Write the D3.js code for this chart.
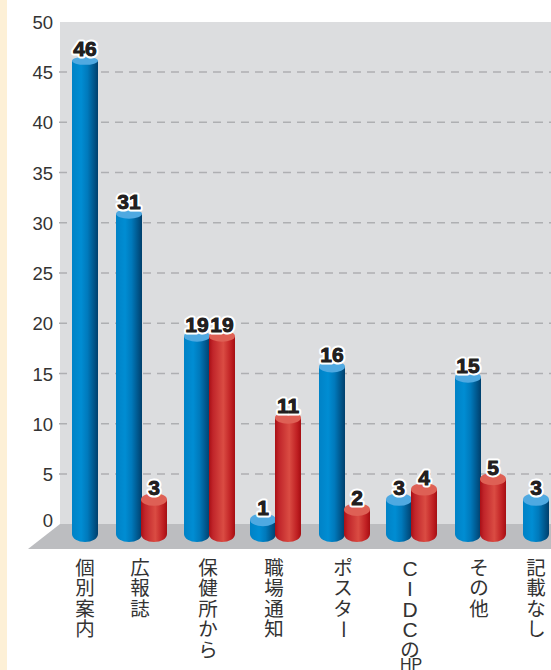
<!DOCTYPE html>
<html><head><meta charset="utf-8">
<script src="https://cdn.jsdelivr.net/npm/d3@7"></script>
<style>html,body{margin:0;padding:0;background:#fff;overflow:hidden}svg{display:block}</style>
</head><body><svg id="c" width="551" height="670"></svg>
<script>
const categories = ["個別案内","広報誌","保健所から","職場通知","ポスター","CIDCのHP","その他","記載なし"];
const blueValues = [46,31,19,1,16,3,15,3];
const redValues  = [null,3,19,11,2,4,5,null];
const yTicks = [0,5,10,15,20,25,30,35,40,45,50];

const svg = d3.select("#c");
const W = 551, H = 670;
const defs = svg.append("defs");
function grad(id, stops){
  const g = defs.append("linearGradient").attr("id",id).attr("x1",0).attr("x2",1).attr("y1",0).attr("y2",0);
  stops.forEach(([o,c])=>g.append("stop").attr("offset",o).attr("stop-color",c));
}
grad("blue",[[0,"#0082c6"],[0.35,"#008dd3"],[0.6,"#0079bb"],[1,"#003f6c"]]);
grad("red",[[0,"#a90f15"],[0.15,"#c0252a"],[0.55,"#da4c43"],[0.85,"#bf1f22"],[1,"#a50e12"]]);

svg.append("rect").attr("x",0).attr("y",0).attr("width",7).attr("height",H).attr("fill","#fdf0d6");

const y = d3.scaleLinear().domain([0,50]).range([524.2,21.8]);
const yBar = d3.scaleLinear().domain([0,50]).range([530,20]);
const yBase = 534, baseRy = 8;
const topRy = d3.scaleLinear().domain([0,50]).range([6.5,3.8]);
const x = d3.scaleOrdinal().domain(categories).range([85,141,209,275,344,411,480,536]);
const barW = 26;

// wall and floor
svg.append("rect").attr("x",60).attr("y",22).attr("width",W-60).attr("height",502).attr("fill","#dcdddf");
svg.append("path").attr("d",d3.line()([[60,524],[28,549],[W,549],[W,524]])+"Z").attr("fill","#bcbdc0");

// grid
svg.append("g").selectAll("line").data(yTicks.filter(t=>t>0&&t<50)).join("line")
  .attr("x1",59).attr("x2",W).attr("y1",d=>y(d)).attr("y2",d=>y(d))
  .attr("stroke","#aeafb2").attr("stroke-width",1.4).attr("stroke-dasharray","8 6");

// y axis labels
const axis = d3.axisLeft(y).tickValues(yTicks).tickSize(0).tickPadding(0);
const gAxis = svg.append("g").attr("transform","translate(53,0)").call(axis);
gAxis.select(".domain").remove();
gAxis.selectAll("text").attr("font-family","'Liberation Sans',Arial,sans-serif").attr("font-size",18.5)
  .attr("fill","#333").attr("dy",d=>d===0?"0.13em":"0.36em");

// bars
function cyl(g, left, v, kind){
  const top = yBar(v), rx = barW/2;
  g.append("path").attr("fill",`url(#${kind})`)
    .attr("d",`M${left},${top}L${left},${yBase}A${rx},${baseRy} 0 0 0 ${left+barW},${yBase}L${left+barW},${top}Z`);
  g.append("ellipse").attr("cx",left+rx).attr("cy",top).attr("rx",rx).attr("ry",topRy(v))
    .attr("fill",kind==="blue"?"#4fa9e1":"#de6055");
}
const rows = categories.map((c,i)=>({c,b:blueValues[i],r:redValues[i]}));
const gBars = svg.append("g");
rows.forEach(d=>{
  const a = x(d.c);
  if(d.r===null){ cyl(gBars,a-barW/2,d.b,"blue"); }
  else { cyl(gBars,a-barW+1,d.b,"blue"); cyl(gBars,a,d.r,"red"); }
});
// value labels
const labels = [];
rows.forEach(d=>{
  const a = x(d.c);
  if(d.r===null) labels.push({x:a,v:d.b});
  else { labels.push({x:a-12,v:d.b}); labels.push({x:a+13,v:d.r}); }
});
svg.append("g").selectAll("text").data(labels).join("text")
  .attr("x",d=>d.x).attr("y",d=>yBar(d.v)-4.5)
  .attr("text-anchor","middle").attr("font-family","'Liberation Sans',Arial,sans-serif")
  .attr("font-weight","bold").attr("font-size",21)
  .attr("fill","#231f20").attr("stroke","#fff").attr("stroke-width",5).attr("stroke-linejoin","round")
  .style("paint-order","stroke").text(d=>d.v);
svg.append("g").selectAll("text").data(labels).join("text")
  .attr("x",d=>d.x).attr("y",d=>yBar(d.v)-4.5)
  .attr("text-anchor","middle").attr("font-family","'Liberation Sans',Arial,sans-serif")
  .attr("font-weight","bold").attr("font-size",21)
  .attr("fill","#231f20").attr("stroke","#231f20").attr("stroke-width",0.8).text(d=>d.v);

// vertical category labels
const pitch = 20.4, firstY = 575;
categories.forEach((c,k)=>{
  const glyphs = c.match(/HP|./gu);
  const cx = x(c) - (redValues[k]===null ? 0 : 1);
  glyphs.forEach((ch,i)=>{
    const yy = firstY + i*pitch;
    const t = svg.append("text").attr("text-anchor","middle").attr("fill","#333")
      .attr("font-family","'Noto Sans CJK JP','Noto Sans',sans-serif").attr("font-size",19.5).text(ch);
    if(ch==="ー"){ t.attr("transform",`translate(${cx},${yy-7}) rotate(90)`).attr("y",7); }
    else if(ch==="HP"){ t.attr("x",cx+1).attr("y",yy-7).attr("font-size",16).attr("font-family","'Liberation Sans',sans-serif"); }
    else if(/[A-Z]/.test(ch)){ t.attr("x",cx).attr("y",yy+1).attr("font-size",21).attr("font-family","'Liberation Sans',sans-serif"); }
    else { t.attr("x",cx).attr("y",yy); }
  });
});
</script></body></html>
